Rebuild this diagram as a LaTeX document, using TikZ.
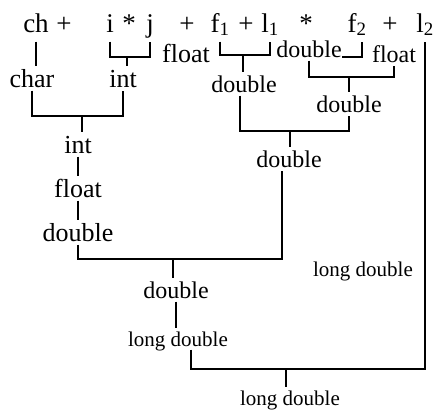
\documentclass[tikz,border=0pt]{standalone}
\usepackage{fontspec}
\setmainfont{Liberation Serif}
\begin{document}
\begin{tikzpicture}
		[x=1pt,y=-1pt,line width=1.1pt,%
		  every node/.style={anchor=base,inner xsep=0pt,text depth=0pt},
		  term/.style={font=\fontsize{27}{30}\selectfont,text height=18pt,inner ysep=9pt},
		  biglbl/.style={font=\fontsize{26}{29}\selectfont,text height=17pt,inner ysep=3pt},
		  lbl/.style={font=\fontsize{24}{27}\selectfont,text height=16pt,inner ysep=3pt},
		  lng/.style={font=\fontsize{21}{24}\selectfont,text height=14pt,inner ysep=3pt}]
		\useasboundingbox (0,0) rectangle (437,415);
		% expression
		\node[term] (ch) at (36,32) {ch};
		\node[term] (p1) at (64,32) {+};
		\node[term] (i) at (110,32) {i};
		\node[term] (st1) at (129,32) {*};
		\node[term] (j) at (150,32) {j};
		\node[term] (p2) at (187,32) {+};
		\node[term] (f1) at (220,32) {f\textsubscript{1}};
		\node[term] (p3) at (246,32) {+};
		\node[term] (l1) at (270,32) {l\textsubscript{1}};
		\node[term] (st2) at (306,32) {*};
		\node[term] (f2) at (357,32) {f\textsubscript{2}};
		\node[term] (p4) at (390,32) {+};
		\node[term] (l2) at (425,32) {l\textsubscript{2}};
		% types
		\node[biglbl] (char) at (32,87) {char};
		\node[biglbl] (int1) at (123,87) {int};
		\node[biglbl] (flt1) at (186,62) {float};
		\node[lbl] (dbl1) at (244,92) {double};
		\node[lbl] (dbl2) at (309,57) {double};
		\node[lbl] (flt2) at (394,62) {float};
		\node[lbl] (dbl3) at (349,112) {double};
		\node[lbl] (dbl4) at (289,167) {double};
		\node[biglbl] (int2) at (78,153) {int};
		\node[biglbl] (flt3) at (78,197) {float};
		\node[biglbl] (dbl5) at (78,241) {double};
		\node[lbl] (dbl6) at (176,298) {double};
		\node[lng] (ld1) at (178,346) {long double};
		\node[lng] (ld2) at (363,276) {long double};
		\node[lng] (ld3) at (290,405) {long double};
		% joints
		\coordinate (ij) at (127,57);
		\coordinate (ci) at (82,116);
		\coordinate (fl) at (243,55);
		\coordinate (dd) at (349,77);
		\coordinate (dm) at (290,131);
		\coordinate (bot) at (173,259);
		\coordinate (last) at (286,369);
		% connectors
		\draw (ch.south) -- (ch.south |- char.north);
		\draw (i.south) |- (ij) -| (j.south);
		\draw (ij) -- (ij |- int1.north);
		\draw (char.south) |- (ci) -| (int1.south);
		\draw (ci) -- (ci |- int2.north);
		\draw (int2.south) -- (flt3.north);
		\draw (flt3.south) -- (dbl5.north);
		\draw (f1.south) |- (fl) -| (l1.south);
		\draw (fl) -- (fl |- dbl1.north);
		\draw (dbl2.base east) -| ([xshift=5pt]f2.south);
		\draw (dbl2.south) |- (dd) -| (flt2.south);
		\draw (dd) -- (dd |- dbl3.north);
		\draw ([xshift=-4pt]dbl1.south) |- (dm) -| (dbl3.south);
		\draw (dm) -- (dm |- dbl4.north);
		\draw (dbl5.south) |- (bot) -| ([xshift=-7pt]dbl4.south);
		\draw (bot) -- (bot |- dbl6.north);
		\draw (dbl6.south) -- (dbl6.south |- ld1.north);
		\draw ([xshift=13pt]ld1.south) |- (last) -| (l2.south);
		\draw (last) -- (last |- ld3.north);
	\end{tikzpicture}
\end{document}
